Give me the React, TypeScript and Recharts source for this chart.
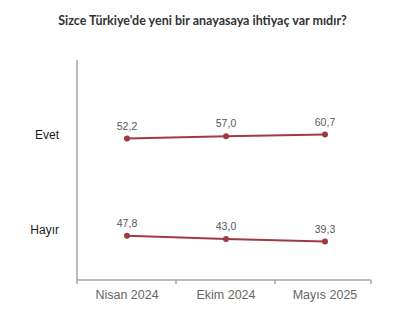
import React from 'react';
import { LineChart, Line, XAxis, YAxis, LabelList } from 'recharts';

const PERIODS = ['Nisan 2024', 'Ekim 2024', 'Mayıs 2025'];
const EVET = [52.2, 57.0, 60.7];
const HAYIR = [47.8, 43.0, 39.3];

const data = PERIODS.map((period, i) => ({ period, evet: EVET[i], hayir: HAYIR[i] }));

const RED = '#a03a40';
const AXIS = '#a6a6a6';
const PAD_L = 50;
const PAD_R = 46;

const fmt = (v: number) => v.toFixed(1).replace('.', ',');

// value above each point, and the series name left of the axis on the first point
const makeLabel = (name: string, nameDy: number) => (props: any) => {
  const { x, y, value, index } = props;
  return (
    <g>
      <text x={x} y={y - 9} textAnchor="middle" fontSize={10.5} fill="#595959">
        {fmt(value)}
      </text>
      {index === 0 && (
        <text x={59} y={y + nameDy} textAnchor="end" fontSize={12} fill="#1a1a1a">
          {name}
        </text>
      )}
    </g>
  );
};

const PeriodTick = (props: any) => {
  const { x, y, payload, index } = props;
  return (
    <g>
      <line x1={x - PAD_L} x2={x - PAD_L} y1={y} y2={y + 4} stroke={AXIS} strokeWidth={1.5} />
      {index === PERIODS.length - 1 && (
        <line x1={x + PAD_R} x2={x + PAD_R} y1={y} y2={y + 4} stroke={AXIS} strokeWidth={1.5} />
      )}
      <text x={x} y={y + 19} textAnchor="middle" fontSize={12.5} fill="#666">
        {payload.value}
      </text>
    </g>
  );
};

export default function App() {
  return (
    <div style={{ position: 'absolute', left: 0, top: 0, width: 405, height: 318, background: '#fff' }}>
      <div
        style={{
          position: 'absolute',
          left: 0,
          top: 14,
          width: 405,
          textAlign: 'center',
          fontFamily: 'Lato, sans-serif',
          fontWeight: 700,
          fontSize: 12.5,
          lineHeight: '14px',
          color: '#333',
        }}
      >
        Sizce Türkiye'de yeni bir anayasaya ihtiyaç var mıdır?
      </div>
      <LineChart
        width={405}
        height={318}
        data={data}
        margin={{ top: 60, right: 34, bottom: 8, left: 0 }}
        style={{ fontFamily: '"Liberation Sans", Arial, sans-serif' }}
      >
        <XAxis
          dataKey="period"
          height={30}
          padding={{ left: PAD_L, right: PAD_R }}
          axisLine={{ stroke: AXIS, strokeWidth: 1.5 }}
          tickLine={false}
          tickSize={0}
          tickMargin={0}
          interval={0}
          tick={<PeriodTick />}
        />
        <YAxis
          yAxisId="evet"
          width={77}
          domain={[-250, 220]}
          tick={false}
          tickLine={false}
          axisLine={{ stroke: AXIS, strokeWidth: 1.5 }}
        />
        <YAxis yAxisId="hayir" hide domain={[-18, 310]} />
        <Line
          yAxisId="evet"
          dataKey="evet"
          stroke={RED}
          strokeWidth={2}
          dot={{ r: 2, fill: RED, stroke: RED }}
          isAnimationActive={false}
        >
          <LabelList dataKey="evet" content={makeLabel('Evet', 0)} />
        </Line>
        <Line
          yAxisId="hayir"
          dataKey="hayir"
          stroke={RED}
          strokeWidth={2}
          dot={{ r: 2, fill: RED, stroke: RED }}
          isAnimationActive={false}
        >
          <LabelList dataKey="hayir" content={makeLabel('Hayır', -2)} />
        </Line>
      </LineChart>
    </div>
  );
}
